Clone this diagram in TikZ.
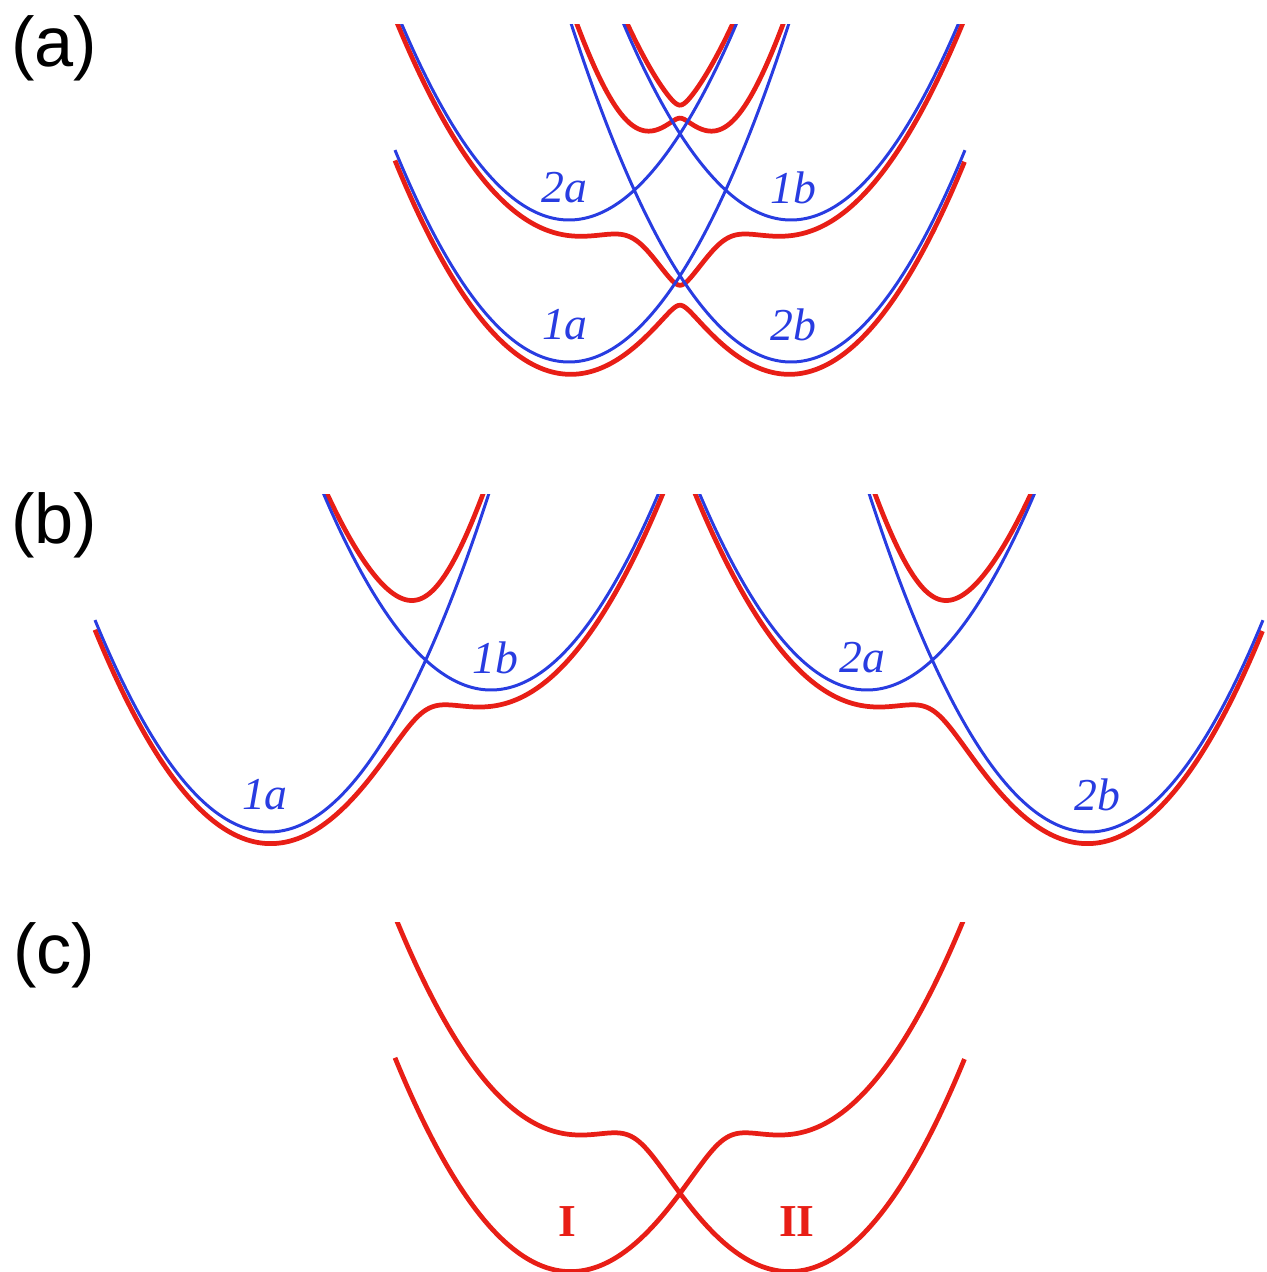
\documentclass[tikz,border=0pt]{standalone}
\usepackage{fontspec}
\setmainfont{Liberation Serif}
\newfontfamily\panelfont{Liberation Sans}

\definecolor{curvered}{RGB}{232,30,22}
\definecolor{curveblue}{RGB}{40,60,225}

\tikzset{
  redcurve/.style={draw=curvered, line width=1.35pt},
  bluecurve/.style={draw=curveblue, line width=0.85pt},
  statelabel/.style={text=curveblue, font=\fontsize{13}{15}\selectfont\itshape, inner sep=0pt},
  wellname/.style={text=curvered, font=\fontsize{13}{15}\selectfont\bfseries, inner sep=0pt},
  panellabel/.style={font=\panelfont\fontsize{20}{24}\selectfont, inner sep=0pt},
  declare function={
    sq(\xx)=(\xx)*(\xx);
    ea(\xx)=9.10+0.70*sq(\xx-5.69);   % 1a
    eb(\xx)=10.52+0.70*sq(\xx-7.91);  % 1b
    ec(\xx)=10.52+0.70*sq(\xx-5.69);  % 2a
    ed(\xx)=9.10+0.70*sq(\xx-7.91);   % 2b
    evlo(\pa,\pb,\pv)=(\pa+\pb)/2-sqrt(sq((\pa-\pb)/2)+sq(\pv));
    evhi(\pa,\pb,\pv)=(\pa+\pb)/2+sqrt(sq((\pa-\pb)/2)+sq(\pv));
    qm(\xx)=evlo(ea(\xx),eb(\xx),0.42);
    qp(\xx)=evhi(ea(\xx),eb(\xx),0.72);
    pm(\xx)=evlo(ec(\xx),ed(\xx),0.42);
    pp(\xx)=evhi(ec(\xx),ed(\xx),0.72);
  }
}

\begin{document}
\begin{tikzpicture}
\useasboundingbox (0,0) rectangle (12.66,12.72);

% (a) all four states
\begin{scope}
\clip (3.8,0) rectangle (9.8,12.47);
\draw[redcurve] plot[domain=3.95:9.65, samples=401] (\x,{evlo(qm(\x),pm(\x),0.10)-0.08});
\draw[redcurve] plot[domain=3.95:9.65, samples=401] (\x,{evhi(qm(\x),pm(\x),0.10)-0.08});
\draw[redcurve] plot[domain=3.95:9.65, samples=401] (\x,{evlo(qp(\x),pp(\x),0.065)-0.08});
\draw[redcurve] plot[domain=3.95:9.65, samples=401] (\x,{evhi(qp(\x),pp(\x),0.065)-0.08});
\draw[bluecurve] plot[domain=3.95:9.65, samples=200] (\x,{ea(\x)});
\draw[bluecurve] plot[domain=3.95:9.65, samples=200] (\x,{eb(\x)});
\draw[bluecurve] plot[domain=3.95:9.65, samples=200] (\x,{ec(\x)});
\draw[bluecurve] plot[domain=3.95:9.65, samples=200] (\x,{ed(\x)});
\end{scope}
\node[statelabel] (a2a) at (5.64,10.84) {2a};
\node[statelabel] (a1b) at (7.93,10.84) {1b};
\node[statelabel] (a1a) at (5.65,9.47) {1a};
\node[statelabel] (a2b) at (7.93,9.47) {2b};
\node[panellabel] (pa) at (0.54,12.24) {(a)};

% (b) left pair 1a/1b
\begin{scope}[shift={(-3.00,-4.70)}]
\clip (3.8,0) rectangle (9.8,12.47);
\draw[redcurve] plot[domain=3.95:9.65, samples=401] (\x,{qm(\x)-0.08});
\draw[redcurve] plot[domain=3.95:9.65, samples=401] (\x,{qp(\x)-0.08});
\draw[bluecurve] plot[domain=3.95:9.65, samples=200] (\x,{ea(\x)});
\draw[bluecurve] plot[domain=3.95:9.65, samples=200] (\x,{eb(\x)});
\node[statelabel] (b1a) at (5.65,9.47) {1a};
\node[statelabel] (b1b) at (7.95,10.84) {1b};
\end{scope}

% (b) right pair 2a/2b
\begin{scope}[shift={(2.98,-4.70)}]
\clip (3.8,0) rectangle (9.8,12.47);
\draw[redcurve] plot[domain=3.95:9.65, samples=401] (\x,{pm(\x)-0.08});
\draw[redcurve] plot[domain=3.95:9.65, samples=401] (\x,{pp(\x)-0.08});
\draw[bluecurve] plot[domain=3.95:9.65, samples=200] (\x,{ec(\x)});
\draw[bluecurve] plot[domain=3.95:9.65, samples=200] (\x,{ed(\x)});
\node[statelabel] (b2a) at (5.64,10.84) {2a};
\node[statelabel] (b2b) at (7.99,9.47) {2b};
\end{scope}
\node[panellabel] (pb) at (0.54,7.47) {(b)};

% (c) lower adiabatic curves only
\begin{scope}[shift={(0,-8.98)}]
\clip (3.8,0) rectangle (9.8,12.47);
\draw[redcurve] plot[domain=3.95:9.65, samples=401] (\x,{qm(\x)-0.08});
\draw[redcurve] plot[domain=3.95:9.65, samples=401] (\x,{pm(\x)-0.08});
\node[wellname] (w1) at (5.67,9.48) {I};
\node[wellname] (w2) at (7.97,9.48) {II};
\end{scope}
\node[panellabel] (pc) at (0.54,3.17) {(c)};
\end{tikzpicture}
\end{document}
